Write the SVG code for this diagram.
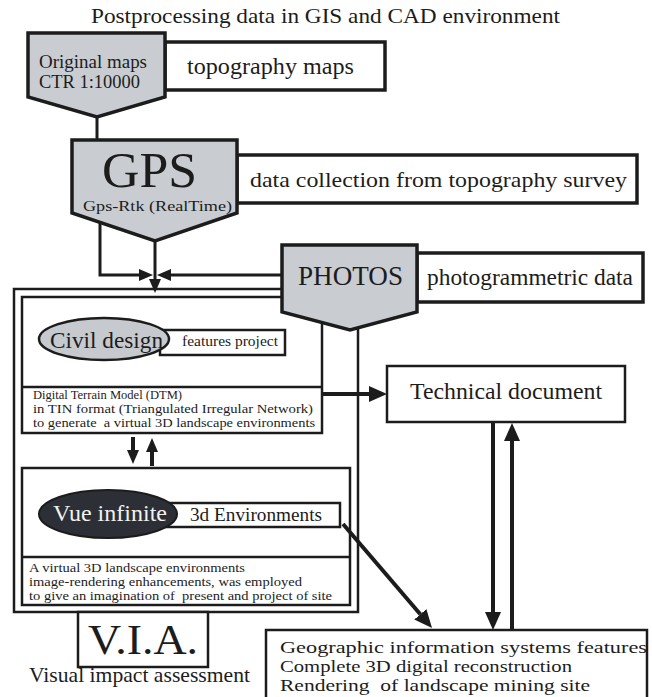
<svg xmlns="http://www.w3.org/2000/svg" width="652" height="697" viewBox="0 0 652 697">
<defs>
<style>
text{font-family:"Liberation Serif","Times New Roman",serif;fill:#1c1c1c}
.pent{fill:#c9ccd1;stroke:#1c1c1c;stroke-width:3.5;stroke-linejoin:miter}
.lbl{fill:#fff;stroke:#1c1c1c;stroke-width:3.5}
.frm{fill:none;stroke:#1c1c1c;stroke-width:2.5}
.box{fill:#fff;stroke:#1c1c1c;stroke-width:2.5}
.ln{fill:none;stroke:#1c1c1c;stroke-width:3}
.thk{fill:none;stroke:#1c1c1c;stroke-width:4}
</style>
<marker id="ah" viewBox="0 0 14 12" refX="0" refY="6" markerWidth="14" markerHeight="12" markerUnits="userSpaceOnUse" orient="auto">
<path d="M0,0 L14,6 L0,12 z" fill="#1c1c1c"/>
</marker>
<marker id="ahb" viewBox="0 0 18 16" refX="0" refY="8" markerWidth="18" markerHeight="16" markerUnits="userSpaceOnUse" orient="auto">
<path d="M0,0 L18,8 L0,16 z" fill="#1c1c1c"/>
</marker>
</defs>
<rect width="652" height="697" fill="#fff"/>

<text id="title" x="91" y="23" font-size="22" textLength="469" lengthAdjust="spacingAndGlyphs">Postprocessing data in GIS and CAD environment</text>

<!-- frames -->
<g id="frame">
<rect class="frm" x="14" y="289" width="344" height="323"/>
</g>
<g id="civil">
<rect class="box" x="22" y="297" width="300" height="136"/>
<line class="frm" x1="22" y1="387" x2="322" y2="387"/>
<rect class="box" x="160" y="330" width="125" height="25" stroke-width="2"/>
<ellipse cx="104" cy="339" rx="65" ry="21" fill="#c6c9ce" stroke="#1c1c1c" stroke-width="2.5"/>
<text x="50" y="348" font-size="23" textLength="113" lengthAdjust="spacingAndGlyphs">Civil design</text>
<text x="182" y="346" font-size="15" textLength="96" lengthAdjust="spacingAndGlyphs">features project</text>
<text x="33" y="399" font-size="13" textLength="149" lengthAdjust="spacingAndGlyphs">Digital Terrain Model (DTM)</text>
<text x="33" y="413" font-size="13" textLength="280" lengthAdjust="spacingAndGlyphs">in TIN format (Triangulated Irregular Network)</text>
<text x="33" y="427" font-size="13" textLength="282" lengthAdjust="spacingAndGlyphs" xml:space="preserve">to generate  a virtual 3D landscape environments</text>
</g>
<g id="vue">
<rect class="box" x="22" y="468" width="328" height="137"/>
<line class="frm" x1="22" y1="557" x2="350" y2="557"/>
<rect class="box" x="165" y="503" width="175" height="24" stroke-width="2"/>
<ellipse cx="108" cy="514" rx="69" ry="24" fill="#2c2f35" stroke="#1c1c1c" stroke-width="2"/>
<text x="53" y="521" font-size="24" textLength="114" lengthAdjust="spacingAndGlyphs" style="fill:#f2f2f2">Vue infinite</text>
<text x="190" y="521" font-size="19" textLength="132" lengthAdjust="spacingAndGlyphs">3d Environments</text>
<text x="29" y="572" font-size="13.5" textLength="216" lengthAdjust="spacingAndGlyphs">A virtual 3D landscape environments</text>
<text x="29" y="586" font-size="13.5" textLength="273" lengthAdjust="spacingAndGlyphs">image-rendering enhancements, was employed</text>
<text x="29" y="600" font-size="13.5" textLength="303" lengthAdjust="spacingAndGlyphs" xml:space="preserve">to give an imagination of  present and project of site</text>
</g>

<!-- connectors -->
<g id="connectors">
<line class="ln" x1="97" y1="117" x2="97" y2="140"/>
<polyline class="ln" points="100,222 100,275 139,275" marker-end="url(#ah)"/>
<line class="ln" x1="155" y1="241" x2="155" y2="279" marker-end="url(#ah)"/>
<line class="ln" x1="282" y1="275" x2="171" y2="275" marker-end="url(#ah)"/>
<line class="thk" x1="322" y1="394" x2="369" y2="394" marker-end="url(#ahb)"/>
<line class="thk" x1="133" y1="437" x2="133" y2="450" marker-end="url(#ah)"/>
<line class="thk" x1="152" y1="466" x2="152" y2="452" marker-end="url(#ah)"/>
<line class="thk" x1="343" y1="524" x2="420.3" y2="614.3" marker-end="url(#ahb)"/>
<line class="thk" x1="493" y1="422" x2="493" y2="612" marker-end="url(#ahb)"/>
<line class="thk" x1="512" y1="631" x2="512" y2="441" marker-end="url(#ahb)"/>
</g>

<g id="original-maps">
<rect class="lbl" x="165" y="42" width="220" height="48"/>
<polygon class="pent" points="28,33 165,33 165,97 97,117 28,97"/>
<text x="39" y="68" font-size="18" textLength="108" lengthAdjust="spacingAndGlyphs">Original maps</text>
<text x="39" y="88" font-size="18" textLength="101" lengthAdjust="spacingAndGlyphs">CTR 1:10000</text>
<text x="187" y="74" font-size="23" textLength="167" lengthAdjust="spacingAndGlyphs">topography maps</text>
</g>

<g id="gps">
<rect class="lbl" x="237" y="155" width="400" height="48"/>
<polygon class="pent" points="72,140 237,140 237,213 155,241 72,213"/>
<text x="102" y="187" font-size="50" textLength="95" lengthAdjust="spacingAndGlyphs">GPS</text>
<text x="83" y="211" font-size="14.5" textLength="149" lengthAdjust="spacingAndGlyphs">Gps-Rtk (RealTime)</text>
<text x="250" y="187" font-size="22" textLength="377" lengthAdjust="spacingAndGlyphs">data collection from topography survey</text>
</g>

<g id="photos">
<rect class="lbl" x="417" y="253" width="226" height="49"/>
<polygon class="pent" points="282,245 417,245 417,312 350,330 282,312"/>
<text x="298" y="285" font-size="27" textLength="105" lengthAdjust="spacingAndGlyphs">PHOTOS</text>
<text x="427" y="285" font-size="23" textLength="206" lengthAdjust="spacingAndGlyphs">photogrammetric data</text>
</g>

<g id="technical-document">
<rect class="box" x="387" y="366" width="238" height="56"/>
<text x="410" y="399" font-size="23" textLength="192" lengthAdjust="spacingAndGlyphs">Technical document</text>
</g>

<g id="via">
<rect class="box" x="78" y="612" width="130" height="55"/>
<text x="88" y="654" font-size="42" textLength="110" lengthAdjust="spacingAndGlyphs">V.I.A.</text>
<text x="29" y="682" font-size="22" textLength="221" lengthAdjust="spacingAndGlyphs">Visual impact assessment</text>
</g>

<g id="gis">
<rect class="box" x="266" y="630" width="381" height="75"/>
<text x="280" y="653" font-size="17.5" textLength="367" lengthAdjust="spacingAndGlyphs">Geographic information systems features</text>
<text x="280" y="672" font-size="17.5" textLength="292" lengthAdjust="spacingAndGlyphs">Complete 3D digital reconstruction</text>
<text x="280" y="691" font-size="17.5" textLength="310" lengthAdjust="spacingAndGlyphs" xml:space="preserve">Rendering  of landscape mining site</text>
</g>
</svg>
